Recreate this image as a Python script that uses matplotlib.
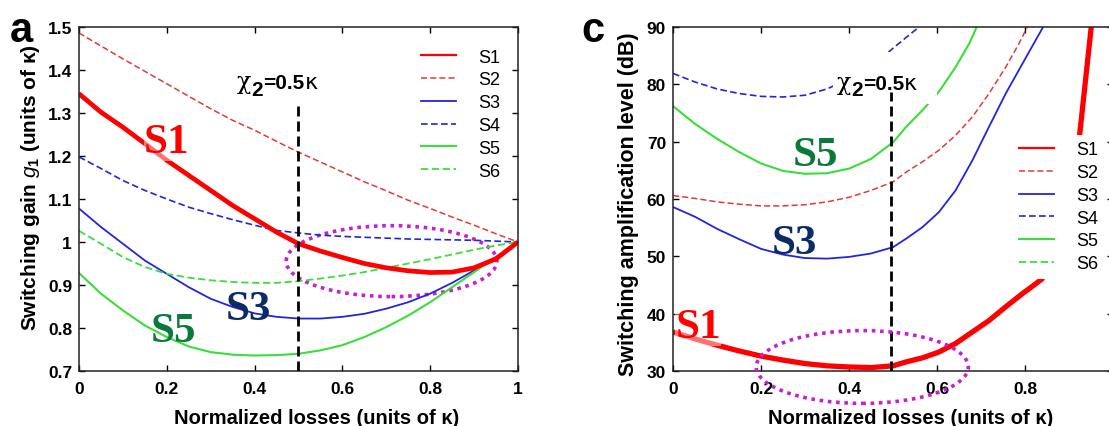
import matplotlib
matplotlib.use("Agg")
import matplotlib.pyplot as plt
from matplotlib.patches import Ellipse, Rectangle
from matplotlib.ticker import FormatStrFormatter
from matplotlib.transforms import offset_copy

plt.rcParams['font.family'] = ['Liberation Sans', 'DejaVu Sans']
plt.rcParams['mathtext.fontset'] = 'custom'
plt.rcParams['mathtext.rm'] = 'Liberation Sans:bold'
plt.rcParams['mathtext.bf'] = 'Liberation Sans:bold'
plt.rcParams['mathtext.it'] = 'Liberation Sans:italic'

# panel a: switching gain vs normalized losses
loss_a = [0.0, 0.05, 0.1, 0.15, 0.2, 0.25, 0.3, 0.35, 0.4, 0.45, 0.5,
          0.55, 0.6, 0.65, 0.7, 0.75, 0.8, 0.85, 0.9, 0.95, 1.0]
gain_s1 = [1.345, 1.302, 1.267, 1.229, 1.19, 1.155, 1.12, 1.085, 1.054, 1.023, 0.996,
           0.979, 0.964, 0.95, 0.94, 0.933, 0.929, 0.93, 0.94, 0.961, 1.0]
gain_s2 = [1.486, 1.456, 1.426, 1.397, 1.368, 1.339, 1.31, 1.283, 1.26, 1.234, 1.209,
           1.186, 1.163, 1.14, 1.119, 1.097, 1.078, 1.058, 1.039, 1.019, 1.0]
gain_s3 = [1.078, 1.035, 0.996, 0.957, 0.926, 0.895, 0.868, 0.849, 0.834, 0.826, 0.822,
           0.822, 0.826, 0.833, 0.845, 0.86, 0.88, 0.905, 0.934, 0.965, 1.0]
gain_s4 = [1.198, 1.171, 1.143, 1.12, 1.1, 1.081, 1.066, 1.052, 1.039, 1.027, 1.021,
           1.016, 1.013, 1.011, 1.009, 1.007, 1.006, 1.005, 1.004, 1.002, 1.0]
gain_s5 = [0.928, 0.88, 0.841, 0.806, 0.779, 0.757, 0.744, 0.738, 0.736, 0.737, 0.74,
           0.748, 0.76, 0.779, 0.802, 0.829, 0.86, 0.895, 0.93, 0.965, 1.0]
gain_s6 = [1.026, 0.996, 0.965, 0.942, 0.926, 0.917, 0.911, 0.907, 0.905, 0.905, 0.909,
           0.915, 0.922, 0.93, 0.94, 0.95, 0.96, 0.971, 0.982, 0.992, 1.0]

# panel c: switching amplification level (dB); curves run until they leave the plot
loss_c1 = [0.0, 0.05, 0.1, 0.15, 0.2, 0.25, 0.3, 0.35, 0.4, 0.45, 0.5, 0.53, 0.567,
           0.604, 0.642, 0.68, 0.718, 0.756, 0.794, 0.824, 0.839, 0.88, 0.923, 0.951]
amp_s1 = [36.8, 35.6, 34.5, 33.5, 32.6, 31.9, 31.3, 30.9, 30.7, 30.6, 30.9, 31.6, 32.3,
          33.3, 34.8, 36.8, 38.8, 41.2, 43.5, 45.2, 46.1, 56.0, 70.5, 90.5]
loss_c2 = [0.0, 0.05, 0.1, 0.15, 0.2, 0.25, 0.3, 0.35, 0.4, 0.45, 0.5, 0.53, 0.567,
           0.604, 0.642, 0.68, 0.718, 0.756, 0.786, 0.805]
amp_s2 = [60.6, 60.1, 59.5, 59.1, 58.8, 58.8, 59.0, 59.5, 60.3, 61.5, 63.0, 64.7, 66.5,
          68.5, 71.1, 74.3, 78.4, 83.0, 87.1, 90.0]
loss_c3 = [0.0, 0.05, 0.1, 0.15, 0.2, 0.25, 0.3, 0.35, 0.4, 0.45, 0.5, 0.53, 0.567,
           0.604, 0.642, 0.68, 0.718, 0.756, 0.794, 0.824, 0.841]
amp_s3 = [58.6, 56.9, 54.8, 53.0, 51.3, 50.3, 49.7, 49.6, 49.9, 50.5, 51.6, 53.1, 55.1,
          57.7, 61.5, 66.7, 72.6, 78.4, 83.6, 87.7, 90.0]
loss_c4 = [0.0, 0.05, 0.1, 0.15, 0.2, 0.25, 0.3, 0.35, 0.364, 0.4, 0.45, 0.485, 0.5,
           0.53, 0.559]
amp_s4 = [81.9, 80.4, 79.2, 78.4, 77.9, 77.8, 78.1, 79.2, 79.7, 81.0, 83.3, 85.3, 86.3,
          88.2, 90.0]
loss_c5 = [0.0, 0.05, 0.1, 0.15, 0.2, 0.25, 0.3, 0.35, 0.4, 0.45, 0.5, 0.53, 0.567,
           0.604, 0.642, 0.673, 0.69]
amp_s5 = [76.2, 73.1, 70.5, 68.2, 66.2, 64.9, 64.4, 64.5, 65.3, 67.0, 69.9, 72.6, 75.5,
          78.7, 83.0, 87.1, 90.0]

names = ['S1', 'S2', 'S3', 'S4', 'S5', 'S6']
red, blue, green = '#ff0000', '#2424dc', '#3ade3a'
dash = (0, (4, 2))
styles = {
    'S1': dict(color=red, ls='-', lw=1.6),
    'S2': dict(color='#e23a3a', ls=dash, lw=1.1),
    'S3': dict(color=blue, ls='-', lw=1.3),
    'S4': dict(color=blue, ls=dash, lw=1.2),
    'S5': dict(color=green, ls='-', lw=1.5),
    'S6': dict(color=green, ls=dash, lw=1.3),
}
label_kw = dict(family='Liberation Serif', fontweight='bold', fontsize=31,
                ha='center', va='center')
ring = dict(fill=False, ec='#c81ed2', lw=2.6, ls=(0, (1, 1.3)))
vdash = dict(color='black', lw=2, ls=(0, (3.6, 1.8)), zorder=3)
leg_kw = dict(loc='upper left', fontsize=13, handlelength=1.95,
              handletextpad=1.2, labelspacing=0.32, borderaxespad=0,
              borderpad=0.35)

fig = plt.figure(figsize=(11.09, 4.27), dpi=100)
ax_a = fig.add_axes([0.0712, 0.1288, 0.3959, 0.8056])
ax_c = fig.add_axes([0.6069, 0.1288, 0.3968, 0.8056])


def style_axes(ax):
    ax.tick_params(direction='in', top=True, right=True, length=4, width=1,
                   labelsize=12.5)
    ax.tick_params(axis='x', pad=7)
    ax.tick_params(axis='y', pad=5)
    for s in ax.spines.values():
        s.set_linewidth(1.1)
        s.set_color('#222222')
    ax.xaxis.set_major_formatter(FormatStrFormatter('%g'))
    ax.yaxis.set_major_formatter(FormatStrFormatter('%g'))
    for t in ax.get_xticklabels() + ax.get_yticklabels():
        t.set_fontweight('bold')
    ax.set_xlabel('Normalized losses (units of κ)', fontsize=14.5,
                  fontweight='bold', va='top')
    ax.xaxis.set_label_coords(0.541, -0.108)


def chi_label(ax, x, y, size=15):
    # chi with a full-size, lowered "2", then "=0.5κ"
    tr = ax.transData
    ax.text(x, y, 'χ', transform=tr, fontsize=size + 2, family='DejaVu Serif',
            va='baseline', ha='left', zorder=4)
    ax.text(x, y, '2', transform=offset_copy(tr, fig, x=10.5, y=-4.5, units='points'),
            fontsize=size, fontweight='bold', va='baseline', ha='left', zorder=4)
    ax.text(x, y, '=0.5', transform=offset_copy(tr, fig, x=19, y=0, units='points'),
            fontsize=size, fontweight='bold', va='baseline', ha='left', zorder=4)
    ax.text(x, y, 'κ', transform=offset_copy(tr, fig, x=48.5, y=0, units='points'),
            fontsize=size + 1, family='DejaVu Sans', va='baseline', ha='left',
            zorder=4)


# ---- panel a ----
series_a = dict(zip(names, [gain_s1, gain_s2, gain_s3, gain_s4, gain_s5, gain_s6]))
for n in names:
    ax_a.plot(loss_a, series_a[n], label=n, **styles[n])
ax_a.plot(loss_a, gain_s1, color=red, lw=3.4, solid_capstyle='butt')

ax_a.set_xlim(0, 1)
ax_a.set_ylim(0.7, 1.5)
ax_a.set_xticks([0, 0.2, 0.4, 0.6, 0.8, 1])
ax_a.set_yticks([0.7, 0.8, 0.9, 1.0, 1.1, 1.2, 1.3, 1.4, 1.5])
style_axes(ax_a)
ax_a.set_ylabel(r'Switching gain $g_{1}$ (units of κ)', fontsize=15,
                fontweight='bold')
ax_a.yaxis.set_label_coords(-0.084, 0.535)

ax_a.plot([0.5, 0.5], [0.7, 1.326], **vdash)
chi_label(ax_a, 0.36, 1.357)
ax_a.add_patch(Ellipse((0.712, 0.9555), 0.48, 0.165, **ring))

ax_a.text(0.20, 1.233, 'S1', color=red,
          bbox=dict(facecolor='white', alpha=0.45, edgecolor='none', pad=0),
          **label_kw)
ax_a.text(0.386, 0.844, 'S3', color='#0b2a66', **label_kw)
ax_a.text(0.215, 0.793, 'S5', color='#0a7a3c', **label_kw)

ax_a.legend(bbox_to_anchor=(0.765, 0.9555), frameon=False, **leg_kw)
fig.text(0.009, 0.975, 'a', fontsize=30, fontweight='bold', va='top')

# ---- panel c ----
curves_c = {
    'S1': (loss_c1, amp_s1),
    'S2': (loss_c2, amp_s2),
    'S3': (loss_c3, amp_s3),
    'S4': (loss_c4, amp_s4),
    'S5': (loss_c5, amp_s5),
}
for n in names:
    if n in curves_c:
        xs, ys = curves_c[n]
        ax_c.plot(xs, ys, label=n, **styles[n])
    else:
        ax_c.plot([], [], label=n, **styles[n])
ax_c.plot(loss_c1, amp_s1, color=red, lw=3.8, solid_capstyle='butt')

ax_c.set_xlim(0, 1)
ax_c.set_ylim(30, 90)
ax_c.set_xticks([0, 0.2, 0.4, 0.6, 0.8, 1])
ax_c.set_yticks([30, 40, 50, 60, 70, 80, 90])
style_axes(ax_c)
ax_c.set_xticklabels(['0', '0.2', '0.4', '0.6', '0.8', ''])
ax_c.xaxis.set_label_coords(0.539, -0.108)
ax_c.set_ylabel('Switching amplification level (dB)', fontsize=15.5,
                fontweight='bold')
ax_c.yaxis.set_label_coords(-0.078, 0.4865)

# white backing behind the chi label
ax_c.add_patch(Rectangle((0.364, 76.6), 0.236, 9.0, fc='white', ec='none',
                         zorder=2.5))
ax_c.plot([0.495, 0.495], [30, 78.6], **vdash)
chi_label(ax_c, 0.371, 79.2)
ax_c.add_patch(Ellipse((0.43, 30.7), 0.482, 12.7, clip_on=False, zorder=4, **ring))

ax_c.text(0.057, 37.6, 'S1', color=red,
          bbox=dict(facecolor='white', alpha=0.45, edgecolor='none', pad=0),
          **label_kw)
ax_c.text(0.276, 52.4, 'S3', color='#0b2a66', **label_kw)
ax_c.text(0.3235, 67.7, 'S5', color='#0a7a3c', **label_kw)

leg = ax_c.legend(bbox_to_anchor=(0.772, 0.686), frameon=True, fancybox=False,
                  **leg_kw)
leg.get_frame().set_facecolor('white')
leg.get_frame().set_edgecolor('none')
leg.get_frame().set_alpha(1)
fig.text(0.524, 0.975, 'c', fontsize=30, fontweight='bold', va='top')

fig.savefig('out.png', dpi=100)
